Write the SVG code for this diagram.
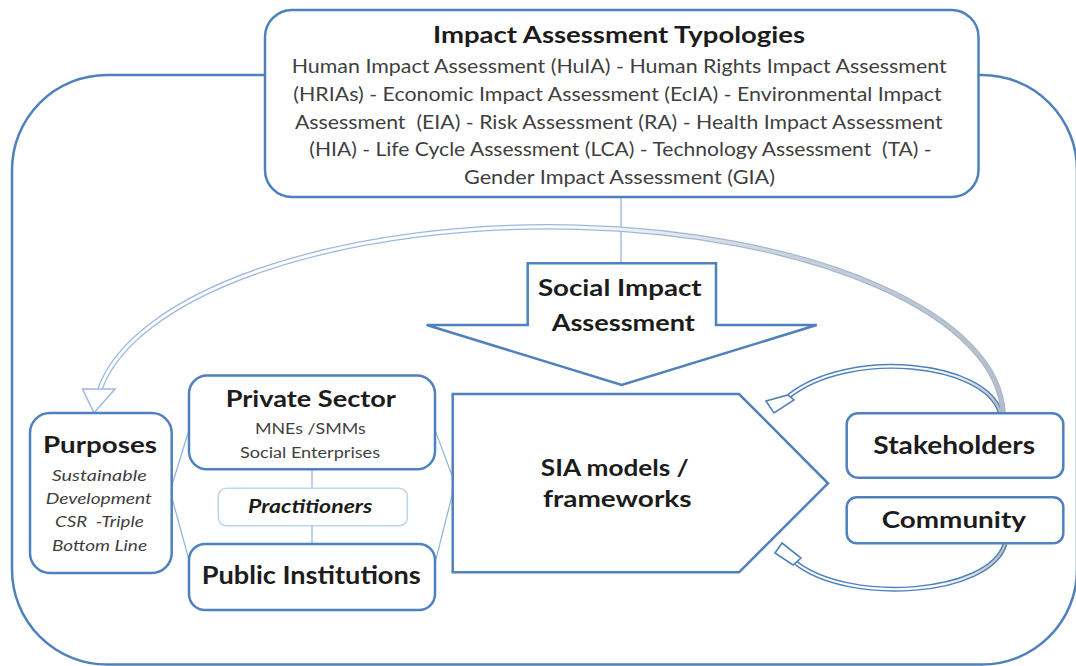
<svg xmlns="http://www.w3.org/2000/svg" width="1076" height="666" viewBox="0 0 1076 666">
<defs>
<linearGradient id="gBig" gradientUnits="userSpaceOnUse" x1="1005" y1="0" x2="100" y2="0">
<stop offset="0" stop-color="#BDBDBD"/><stop offset="0.25" stop-color="#D2D2D2"/><stop offset="0.5" stop-color="#FFFFFF"/><stop offset="1" stop-color="#FFFFFF"/>
</linearGradient>
<linearGradient id="gTop" gradientUnits="userSpaceOnUse" x1="1002" y1="0" x2="940" y2="0">
<stop offset="0" stop-color="#BDBDBD"/><stop offset="1" stop-color="#FFFFFF"/>
</linearGradient>
<linearGradient id="gBot" gradientUnits="userSpaceOnUse" x1="1006" y1="0" x2="940" y2="0">
<stop offset="0" stop-color="#BDBDBD"/><stop offset="1" stop-color="#FFFFFF"/>
</linearGradient>
<style>
.box{fill:#FFFFFF;stroke:#4F81BD;stroke-width:2.5}
.thin{fill:none;stroke:#8FB1DD;stroke-width:1.2}
.t{font-family:Lato,"Open Sans","Liberation Sans",sans-serif;text-anchor:middle}
.b{font-weight:bold;fill:#1C1C1C}
.r{fill:#3F3F3F}
.i{font-style:italic}
.bandO{fill:none;stroke:#4F81BD;stroke-width:5}
.bandI{fill:none;stroke-width:2.2}
.head{fill:#FFFFFF;stroke:#4F81BD;stroke-width:1.6;stroke-linejoin:miter}
</style>
</defs>

<g id="frame">
<rect x="12" y="75" width="1065" height="589.5" rx="95" fill="none" stroke="#4F81BD" stroke-width="2.5"/>
</g>

<g id="connectors">
<line class="thin" x1="621" y1="197" x2="621" y2="263"/>
<line class="thin" x1="312" y1="469" x2="312" y2="488"/>
<line class="thin" x1="312" y1="526" x2="312" y2="544"/>
<line class="thin" x1="172" y1="485" x2="189" y2="430"/>
<line class="thin" x1="172" y1="498" x2="189" y2="560"/>
<line class="thin" x1="435" y1="430" x2="453" y2="478"/>
<line class="thin" x1="435" y1="563" x2="453" y2="492"/>
<path class="bandO" d="M 1000 412 C 985 362, 850 348, 789 396"/>
<path class="bandI" stroke="url(#gTop)" d="M 1000 412 C 985 362, 850 348, 789 396"/>
<polygon class="head" points="766,401 774,413 794,400 788,395"/>
<path class="bandO" d="M 1005 544 C 990 595, 850 605, 796 563"/>
<path class="bandI" stroke="url(#gBot)" d="M 1005 544 C 990 595, 850 605, 796 563"/>
<polygon class="head" points="775,553 782,543 801,558 793,565"/>
<path d="M 1003 413 A 454 190 0 0 0 100 389" fill="none" stroke="#9DB8DF" stroke-width="5.5"/>
<path d="M 1003 413 A 454 190 0 0 0 100 389" fill="none" stroke="url(#gBig)" stroke-width="3"/>
<polygon points="82.5,389 115,389 94,413" fill="#FFFFFF" stroke="#9DB8DF" stroke-width="1.5"/>
</g>

<g id="typologies">
<rect class="box" x="265" y="10" width="713.5" height="187" rx="27"/>
<text class="t b" x="619" y="43.3" font-size="23" textLength="372" lengthAdjust="spacingAndGlyphs">Impact Assessment Typologies</text>
<text class="t r" x="619.2" y="73.3" font-size="18.4" textLength="655" lengthAdjust="spacingAndGlyphs">Human Impact Assessment (HuIA) - Human Rights Impact Assessment</text>
<text class="t r" x="617.5" y="101" font-size="18.4" textLength="648.4" lengthAdjust="spacingAndGlyphs">(HRIAs) - Economic Impact Assessment (EcIA) - Environmental Impact</text>
<text class="t r" x="618.8" y="128.7" font-size="18.4" textLength="647.7" lengthAdjust="spacingAndGlyphs" xml:space="preserve">Assessment  (EIA) - Risk Assessment (RA) - Health Impact Assessment</text>
<text class="t r" x="620.5" y="156.4" font-size="18.4" textLength="622.4" lengthAdjust="spacingAndGlyphs" xml:space="preserve">(HIA) - Life Cycle Assessment (LCA) - Technology Assessment  (TA) -</text>
<text class="t r" x="619.5" y="184" font-size="18.4" textLength="311" lengthAdjust="spacingAndGlyphs">Gender Impact Assessment (GIA)</text>
</g>

<g id="sia">
<polygon class="box" points="527.7,263.3 716,263.3 716,325 816.7,325 621.7,385 426.7,325 527.7,325"/>
<text class="t b" x="619.8" y="295.7" font-size="23" textLength="163.7" lengthAdjust="spacingAndGlyphs">Social Impact</text>
<text class="t b" x="623.3" y="331" font-size="23" textLength="143.3" lengthAdjust="spacingAndGlyphs">Assessment</text>
</g>

<g id="sia-models">
<polygon class="box" points="452.7,394 739,394 828,483.3 739,572.3 452.7,572.3"/>
<text class="t b" x="614.8" y="476" font-size="22.5" textLength="148" lengthAdjust="spacingAndGlyphs">SIA models /</text>
<text class="t b" x="617.3" y="506.7" font-size="22.5" textLength="148.7" lengthAdjust="spacingAndGlyphs">frameworks</text>
</g>

<g id="purposes">
<rect class="box" x="30" y="413" width="141.7" height="160" rx="20"/>
<text class="t b" x="100" y="453" font-size="22" textLength="114" lengthAdjust="spacingAndGlyphs">Purposes</text>
<text class="t r i" x="99.2" y="480.7" font-size="16" textLength="95" lengthAdjust="spacingAndGlyphs">Sustainable</text>
<text class="t r i" x="98.8" y="504" font-size="16" textLength="106.3" lengthAdjust="spacingAndGlyphs">Development</text>
<text class="t r i" x="99.3" y="527.3" font-size="16" textLength="88.7" lengthAdjust="spacingAndGlyphs" xml:space="preserve">CSR  -Triple</text>
<text class="t r i" x="99.5" y="551" font-size="16" textLength="95" lengthAdjust="spacingAndGlyphs">Bottom Line</text>
</g>

<g id="private-sector">
<rect class="box" x="189" y="375.5" width="246" height="93.8" rx="18"/>
<text class="t b" x="310.8" y="406.7" font-size="22" textLength="170.3" lengthAdjust="spacingAndGlyphs">Private Sector</text>
<text class="t r" x="310.3" y="434" font-size="15.5" textLength="110.7" lengthAdjust="spacingAndGlyphs">MNEs /SMMs</text>
<text class="t r" x="310" y="458.3" font-size="15.5" textLength="140" lengthAdjust="spacingAndGlyphs">Social Enterprises</text>
</g>

<g id="practitioners">
<rect x="218.3" y="488.3" width="189" height="37.4" rx="8" fill="#FFFFFF" stroke="#C3D4EB" stroke-width="1.6"/>
<text class="t b i" x="310.2" y="513.3" font-size="18.4" textLength="124.3" lengthAdjust="spacingAndGlyphs">Practitioners</text>
</g>

<g id="public-institutions">
<rect class="box" x="189" y="544" width="246" height="66" rx="16"/>
<text class="t b" x="311.2" y="584" font-size="24" textLength="219" lengthAdjust="spacingAndGlyphs">Public Institutions</text>
</g>

<g id="stakeholders">
<rect class="box" x="846.7" y="413.3" width="216.6" height="64.4" rx="11"/>
<text class="t b" x="954.2" y="454" font-size="24" textLength="161.7" lengthAdjust="spacingAndGlyphs">Stakeholders</text>
</g>

<g id="community">
<rect class="box" x="846.7" y="497.3" width="216.6" height="46" rx="10"/>
<text class="t b" x="953.8" y="527.7" font-size="23" textLength="144.3" lengthAdjust="spacingAndGlyphs">Community</text>
</g>
</svg>
